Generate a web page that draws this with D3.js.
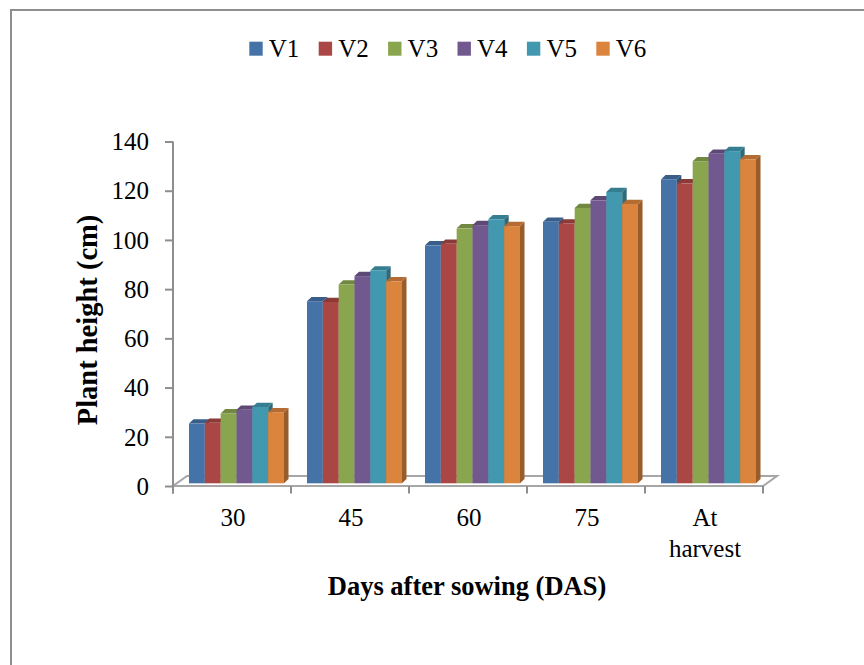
<!DOCTYPE html>
<html>
<head>
<meta charset="utf-8">
<script src="https://cdn.jsdelivr.net/npm/d3@7"></script>
<style>
  html, body { margin: 0; padding: 0; background: #ffffff; }
  svg { display: block; }
</style>
</head>
<body>
<svg id="chart" width="864" height="665"></svg>
<script>
// Plant height (cm) by growth stage for six varieties
const categories = ["30", "45", "60", "75", "At harvest"];
const series = ["V1", "V2", "V3", "V4", "V5", "V6"];
const colors = ["#4572A7", "#AA4643", "#89A54E", "#71588F", "#4198AF", "#DB843D"];
const V1 = [24.3, 74.0, 96.7, 106.3, 123.5];
const V2 = [24.6, 73.7, 97.3, 105.6, 121.9];
const V3 = [28.4, 80.8, 103.6, 111.9, 130.9];
const V4 = [29.9, 84.2, 104.9, 115.0, 133.9];
const V5 = [31.0, 86.5, 107.3, 118.4, 135.0];
const V6 = [28.9, 82.1, 104.5, 113.5, 131.7];
const seriesValues = [V1, V2, V3, V4, V5, V6];
const yTicks = [0, 20, 40, 60, 80, 100, 120, 140];

const FONT = "'Liberation Serif', 'Times New Roman', Tinos, 'DejaVu Serif', serif";
const svg = d3.select("#chart");
const axisColor = "#8e8e8e";

// outer frame (runs off the right and bottom edges)
svg.append("rect")
  .attr("x", 11).attr("y", 10).attr("width", 900).attr("height", 700)
  .attr("fill", "none").attr("stroke", axisColor).attr("stroke-width", 2);

// scales
const left = 173, right = 763;
const x = d3.scaleBand().domain(categories).range([left, right]).padding(0);
const xInner = d3.scaleBand().domain(series).range([16, 111]).padding(0);
const y = d3.scaleLinear().domain([0, 140]).range([486, 141.5]);

// 3D offsets: floor depth, bar position inside the floor, bar thickness
const floorDX = 14, floorDY = -10;
const barShiftX = 0, barShiftY = -2.7;
const depthX = 4.5, depthY = -4.3;

// floor outline
const floorPts = [[left, y(0)], [right, y(0)], [right + floorDX, y(0) + floorDY], [left + floorDX, y(0) + floorDY]];
svg.append("path")
  .attr("d", "M" + floorPts.map(p => p.join(",")).join("L") + "Z")
  .attr("fill", "#ffffff").attr("stroke", "#a6a6a6").attr("stroke-width", 2)
  .attr("stroke-linejoin", "miter");

// category tick marks at band boundaries
const boundaries = categories.map(c => x(c)).concat([right]);
svg.append("g").selectAll("line").data(boundaries).join("line")
  .attr("x1", d => d).attr("x2", d => d)
  .attr("y1", y(0)).attr("y2", y(0) + 7.5)
  .attr("stroke", axisColor).attr("stroke-width", 2);

// y axis
const yAxis = d3.axisLeft(y).tickValues(yTicks).tickSize(8).tickPadding(16).tickFormat(d3.format("d"));
const gy = svg.append("g").attr("transform", `translate(${left},0)`).call(yAxis)
  .attr("font-family", FONT).attr("font-size", 25);
gy.select(".domain").remove();
gy.selectAll(".tick line").attr("stroke", axisColor).attr("stroke-width", 2);
gy.selectAll(".tick text").attr("fill", "#000").attr("dy", "0.33em");
svg.append("line")
  .attr("x1", left).attr("x2", left).attr("y1", y(140)).attr("y2", y(0) + 7.5)
  .attr("stroke", axisColor).attr("stroke-width", 2);

// bars: front face, top cap and right side, drawn left to right
const bars = [];
categories.forEach((c, ci) => {
  series.forEach((s, si) => {
    bars.push({ cat: c, ser: s, value: seriesValues[si][ci], color: colors[si] });
  });
});
const bw = xInner.bandwidth();
const barG = svg.append("g").selectAll("g").data(bars).join("g");
barG.each(function (d) {
  const g = d3.select(this);
  const x0 = x(d.cat) + xInner(d.ser) + barShiftX;
  const x1 = x0 + bw;
  const yb = y(0) + barShiftY;
  const yt = y(d.value) + barShiftY;
  const base = d3.color(d.color);
  // side face
  g.append("path")
    .attr("d", `M${x1},${yt}L${x1 + depthX},${yt + depthY}L${x1 + depthX},${yb + depthY}L${x1},${yb}Z`)
    .attr("fill", base.darker(1.0));
  // top cap
  g.append("path")
    .attr("d", `M${x0},${yt}L${x1},${yt}L${x1 + depthX},${yt + depthY}L${x0 + depthX},${yt + depthY}Z`)
    .attr("fill", base.darker(0.55));
  // front face
  g.append("rect")
    .attr("x", x0).attr("y", yt).attr("width", bw).attr("height", yb - yt)
    .attr("fill", d.color);
});

// category labels
const xl = svg.append("g").attr("font-family", FONT).attr("font-size", 25)
  .selectAll("text").data(categories).join("text")
  .attr("x", d => x(d) + x.bandwidth() / 2 + 1)
  .attr("y", 526)
  .attr("text-anchor", "middle");
xl.each(function (d) {
  const words = d.split(" ");
  const t = d3.select(this);
  words.forEach((w, i) => {
    t.append("tspan").attr("x", x(d) + x.bandwidth() / 2 + 1).attr("dy", i === 0 ? 0 : 31).text(w);
  });
});

// axis titles
svg.append("text")
  .attr("x", 467).attr("y", 595)
  .attr("text-anchor", "middle")
  .attr("font-family", FONT).attr("font-size", 26.5).attr("font-weight", "bold")
  .text("Days after sowing (DAS)");
svg.append("text")
  .attr("transform", "translate(97,320) rotate(-90)")
  .attr("text-anchor", "middle")
  .attr("font-family", FONT).attr("font-size", 28.5).attr("font-weight", "bold")
  .text("Plant height (cm)");

// legend
const legend = svg.append("g").attr("font-family", FONT).attr("font-size", 25)
  .selectAll("g").data(series).join("g")
  .attr("transform", (d, i) => `translate(${249.3 + i * 69.4},0)`);
legend.append("rect")
  .attr("x", 0).attr("y", 41.7).attr("width", 13.4).attr("height", 14)
  .attr("fill", (d, i) => colors[i]);
legend.append("text")
  .attr("x", 19.5).attr("y", 56.5)
  .text(d => d);
</script>
</body>
</html>
